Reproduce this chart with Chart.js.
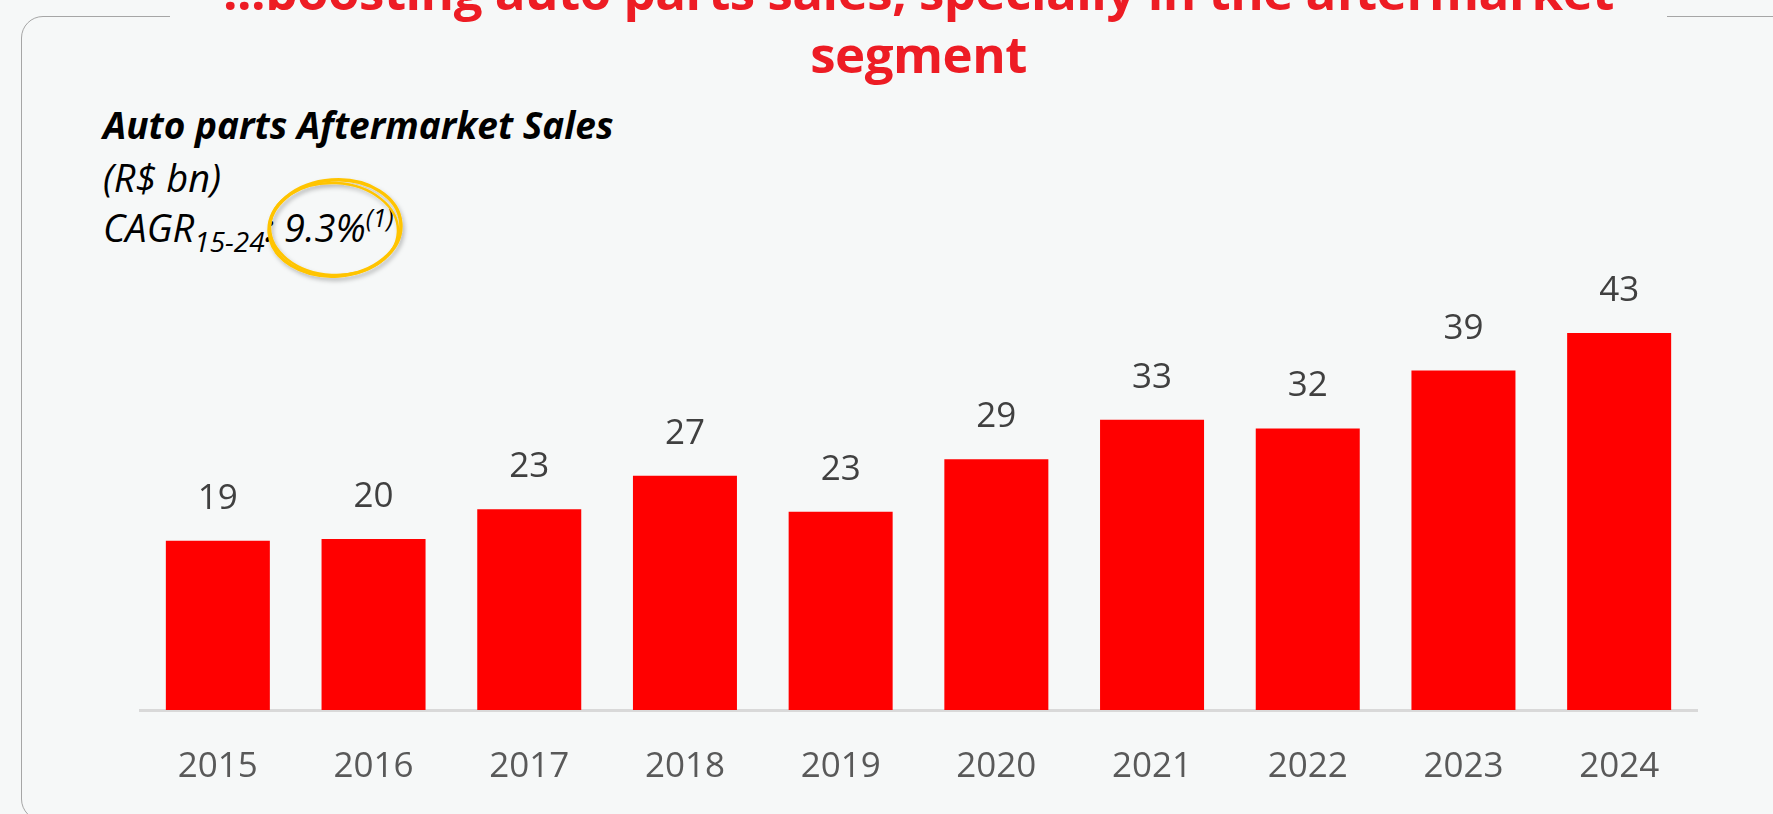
<!DOCTYPE html>
<html>
<head>
<meta charset="utf-8">
<script src="https://cdn.jsdelivr.net/npm/chart.js@4.4.1/dist/chart.umd.min.js"></script>
<style>
  html, body { margin: 0; padding: 0; }
  body {
    width: 1773px; height: 814px; overflow: hidden; position: relative;
    background: #f6f8f8; font-family: "Open Sans", sans-serif;
  }
  .frame {
    position: absolute; left: 21px; top: 16px; width: 1800px; height: 805px;
    border: 1.5px solid #a6a6a6; border-radius: 22px; box-sizing: border-box;
  }
  .title {
    position: absolute; left: 170px; width: 1497px; top: -41px;
    background: #f6f8f8; text-align: center;
    color: #ed1c24; font-weight: 700; font-size: 51px; line-height: 62.7px;
    letter-spacing: -0.5px;
  }
  .sub { position: absolute; left: 103px; color: #000; font-size: 38px; line-height: 38px; font-style: italic; white-space: nowrap; }
  .sub sub { font-size: 28px; vertical-align: -10px; line-height: 0; }
  .sub sup { font-size: 25px; vertical-align: 15px; line-height: 0; }
  #wrap { position: absolute; left: 0; top: 0; width: 1773px; height: 814px; }
  svg.ring { position: absolute; left: 0; top: 0; }
</style>
</head>
<body>
<div class="frame"></div>
<div class="title">...boosting auto parts sales, specially in the aftermarket<br>segment</div>
<div class="sub" style="top:106px;font-weight:700;font-size:37px;line-height:37px;">Auto parts Aftermarket Sales</div>
<div class="sub" style="top:158px;">(R$ bn)</div>
<div class="sub" style="top:208px;">CAGR<sub>15-24</sub>: 9.3%<sup>(1)</sup></div>
<svg class="ring" width="500" height="320">
  <defs>
    <filter id="sh" x="-20%" y="-20%" width="140%" height="140%">
      <feDropShadow dx="2" dy="3" stdDeviation="2" flood-color="#000" flood-opacity="0.25"/>
    </filter>
  </defs>
  <g filter="url(#sh)" fill="none" stroke="#ffc400">
    <ellipse cx="335" cy="228" rx="66" ry="48" stroke-width="3.5" transform="rotate(-4 335 228)"/>
    <ellipse cx="334" cy="229" rx="64" ry="46" stroke-width="2.5" transform="rotate(3 334 229)"/>
  </g>
</svg>
<div id="wrap"><canvas id="salesChart" width="1773" height="814"></canvas></div>
<script>
// Auto parts aftermarket sales (R$ bn)
const years = ['2015', '2016', '2017', '2018', '2019', '2020', '2021', '2022', '2023', '2024'];
const sales = [19.3, 19.5, 22.9, 26.7, 22.6, 28.6, 33.1, 32.1, 38.7, 43.0];

// value labels above the bars
const valueLabels = {
    id: 'valueLabels',
    afterDatasetsDraw(chart) {
        const ctx = chart.ctx;
        const meta = chart.getDatasetMeta(0);
        ctx.save();
        ctx.font = '35px "Open Sans"';
        ctx.fillStyle = '#404040';
        ctx.textAlign = 'center';
        ctx.textBaseline = 'middle';
        meta.data.forEach((bar, i) => {
            ctx.fillText(Math.round(sales[i]), bar.x, bar.y - 42);
        });
        ctx.restore();
    }
};

const salesConfig = {
    type: 'bar',
    data: {
        labels: years,
        datasets: [{
            data: sales,
            backgroundColor: '#ff0000',
            borderWidth: 0,
            categoryPercentage: 1,
            barPercentage: 0.668
        }]
    },
    options: {
        responsive: false,
        animation: false,
        layout: {
            padding: { left: 140, right: 76, top: 271.5, bottom: 28 }
        },
        scales: {
            y: { display: false, min: 0, max: 50 },
            x: {
                afterFit(scale) { scale.height = 76; },
                grid: { display: false, drawTicks: false },
                border: { display: true, color: '#d9d9d9', width: 3 },
                ticks: {
                    padding: 36,
                    color: '#595959',
                    font: { family: '"Open Sans"', size: 35 }
                }
            }
        },
        plugins: {
            legend: { display: false },
            tooltip: { enabled: false }
        }
    },
    plugins: [valueLabels]
};
const salesChart = new Chart(document.querySelector('#salesChart'), salesConfig);
</script>
</body>
</html>
